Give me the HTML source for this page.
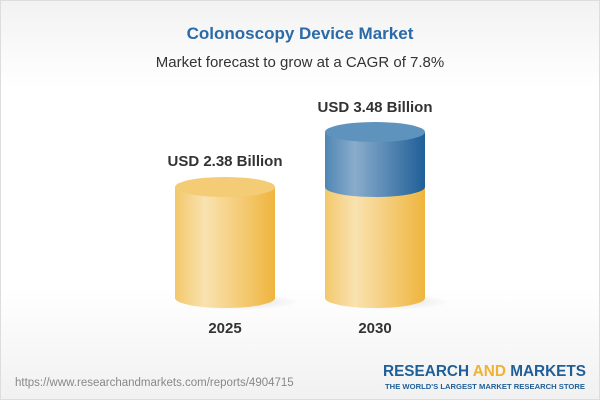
<!DOCTYPE html>
<html><head><meta charset="utf-8"><style>
html,body{margin:0;padding:0}
body{width:600px;height:400px;overflow:hidden;font-family:"Liberation Sans",sans-serif}
.wrap{position:absolute;left:0;top:0;width:598px;height:398px;border:1px solid #ddd;background:linear-gradient(#f2f2f2 0%,#fff 22%,#fff 72%,#f1f1f1 100%)}
</style></head><body><div class="wrap"></div>
<svg width="600" height="400" style="position:absolute;left:0;top:0">
<defs>
<linearGradient id="y" x1="0" x2="1"><stop offset="0" stop-color="#f3c86a"/><stop offset="0.3" stop-color="#f9e2b0"/><stop offset="1" stop-color="#efb53e"/></linearGradient>
<linearGradient id="b" x1="0" x2="1"><stop offset="0" stop-color="#4f86b4"/><stop offset="0.3" stop-color="#8aaccb"/><stop offset="1" stop-color="#1f5f98"/></linearGradient>
<radialGradient id="sh"><stop offset="0" stop-color="#000" stop-opacity="0.12"/><stop offset="1" stop-color="#000" stop-opacity="0"/></radialGradient>
</defs>
<text x="300" y="39" text-anchor="middle" font-size="17" font-weight="bold" fill="#2a6aa8">Colonoscopy Device Market</text>
<text x="300" y="67" text-anchor="middle" font-size="15" fill="#333">Market forecast to grow at a CAGR of 7.8%</text>
<ellipse cx="240" cy="302" rx="60" ry="8" fill="url(#sh)"/>
<ellipse cx="390" cy="302" rx="60" ry="8" fill="url(#sh)"/>
<path d="M175 187 V298 A50 10 0 0 0 275 298 V187 Z" fill="url(#y)"/>
<ellipse cx="225" cy="187" rx="50" ry="10" fill="#f4cc75"/>
<path d="M325 187 V298 A50 10 0 0 0 425 298 V187 Z" fill="url(#y)"/>
<path d="M325 132 V187 A50 10 0 0 0 425 187 V132 Z" fill="url(#b)"/>
<ellipse cx="375" cy="132" rx="50" ry="10" fill="#5e93be"/>
<text x="225" y="166" text-anchor="middle" font-size="15" font-weight="bold" fill="#333">USD 2.38 Billion</text>
<text x="375" y="112" text-anchor="middle" font-size="15" font-weight="bold" fill="#333">USD 3.48 Billion</text>
<text x="225" y="333" text-anchor="middle" font-size="15" font-weight="bold" fill="#333">2025</text>
<text x="375" y="333" text-anchor="middle" font-size="15" font-weight="bold" fill="#333">2030</text>
<text x="15" y="386" font-size="11.5" fill="#888">https://www.researchandmarkets.com/reports/4904715</text>
<text x="383" y="376" font-size="16" font-weight="bold" fill="#1f5f98" textLength="203" lengthAdjust="spacingAndGlyphs">RESEARCH <tspan fill="#f0b232">AND</tspan> MARKETS</text>
<text x="385" y="389" font-size="7.5" font-weight="bold" fill="#1f5f98" textLength="200" lengthAdjust="spacingAndGlyphs">THE WORLD'S LARGEST MARKET RESEARCH STORE</text>
</svg>
</body></html>
